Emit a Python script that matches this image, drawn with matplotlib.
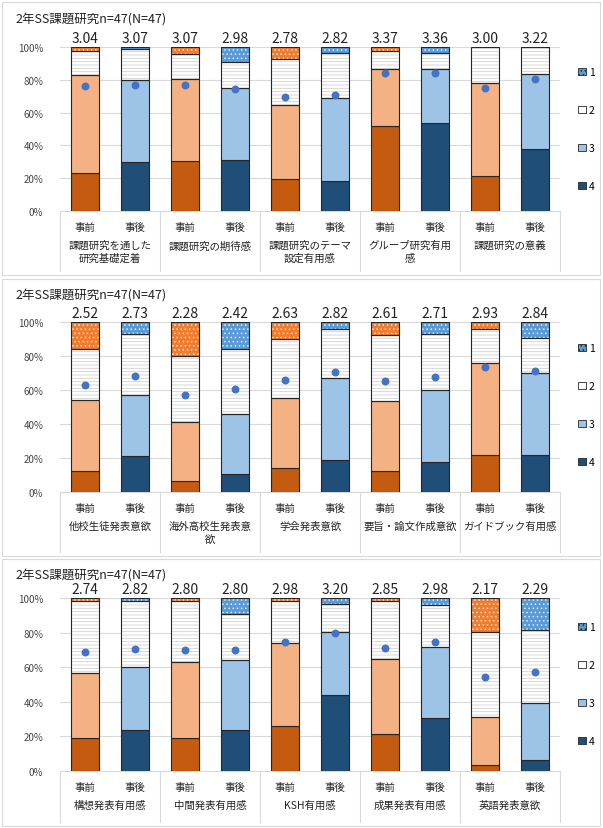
import numpy as np
import matplotlib
matplotlib.use('Agg')
import matplotlib.pyplot as plt
from matplotlib.patches import Patch, Rectangle

plt.rcParams.update({
    'font.family': ['Noto Sans CJK JP', 'DejaVu Sans'],
    'font.size': 8,
    'hatch.linewidth': 0.6,
})

TITLE = '2年SS課題研究n=47(N=47)'
PHASES = ['事前', '事後']
LEVELS = ['1', '2', '3', '4']

# Panel 1
items_1 = ['課題研究を通した\n研究基礎定着', '課題研究の期待感', '課題研究のテーマ\n設定有用感',
           'グループ研究有用\n感', '課題研究の意義']
means_1 = [3.04, 3.07, 3.07, 2.98, 2.78, 2.82, 3.37, 3.36, 3.00, 3.22]
p4_1 = [23.4, 29.8, 30.2, 30.8, 19.8, 18.0, 52.0, 53.5, 21.4, 37.8]
p3_1 = [59.3, 50.2, 50.2, 44.1, 44.9, 50.8, 34.7, 33.2, 56.6, 45.9]
p2_1 = [15.1, 18.5, 15.5, 15.9, 27.7, 27.5, 10.9, 9.6, 22.0, 16.3]
p1_1 = [2.2, 1.5, 4.1, 9.2, 7.6, 3.7, 2.4, 3.7, 0.0, 0.0]

# Panel 2
items_2 = ['他校生徒発表意欲', '海外高校生発表意\n欲', '学会発表意欲',
           '要旨・論文作成意欲', 'ガイドブック有用感']
means_2 = [2.52, 2.73, 2.28, 2.42, 2.63, 2.82, 2.61, 2.71, 2.93, 2.84]
p4_2 = [12.4, 21.2, 6.5, 10.4, 14.3, 19.0, 12.4, 17.6, 21.6, 21.6]
p3_2 = [41.5, 35.7, 34.7, 35.7, 41.2, 48.1, 40.9, 42.2, 54.3, 48.6]
p2_2 = [30.4, 36.0, 38.8, 38.2, 34.7, 28.6, 39.2, 33.3, 19.8, 20.4]
p1_2 = [15.7, 7.1, 20.0, 15.7, 9.8, 4.3, 7.5, 6.9, 4.3, 9.4]

# Panel 3
items_3 = ['構想発表有用感', '中間発表有用感', 'KSH有用感', '成果発表有用感', '英語発表意欲']
means_3 = [2.74, 2.82, 2.80, 2.80, 2.98, 3.20, 2.85, 2.98, 2.17, 2.29]
p4_3 = [19.2, 23.8, 19.2, 23.8, 25.8, 44.0, 21.5, 30.8, 3.3, 6.2]
p3_3 = [37.5, 36.2, 43.7, 40.4, 48.0, 36.2, 43.3, 40.7, 28.2, 33.2]
p2_3 = [41.4, 38.5, 35.2, 26.6, 24.3, 16.3, 33.3, 24.7, 48.7, 42.3]
p1_3 = [1.9, 1.5, 1.9, 9.2, 1.9, 3.5, 1.9, 3.8, 19.8, 18.3]

# segment colours (4, 3, 2, 1) for before / after
PRE = ['#C55A11', '#F4B183', '#FFFFFF', '#ED7D31']
POST = ['#1F4E79', '#9DC3E6', '#FFFFFF', '#5B9BD5']
HATCH = [None, None, '-----', '....']
HATCH_COL = [None, None, '#D0D0D0', '#FCE4D6']
HATCH_COL_POST = [None, None, '#D0D0D0', '#DDEBF7']
EDGE = '#262626'
DOT = '#4472C4'
GRID = '#D9D9D9'

W, H = 603, 829
fig = plt.figure(figsize=(W / 100, H / 100), dpi=100)

# (box top, box bottom, axes top, axes bottom, title y, legend centre y)
panels = [
    (items_1, means_1, [p4_1, p3_1, p2_1, p1_1], (3, 276, 48, 212, 20, 130)),
    (items_2, means_2, [p4_2, p3_2, p2_2, p1_2], (280, 557, 323, 493, 296, 406)),
    (items_3, means_3, [p4_3, p3_3, p2_3, p1_3], (560, 827, 599, 772, 576, 685)),
]

AX_L, AX_R = 60, 560


def fy(px):
    return 1 - px / H


for items, means, segs, (btop, bbot, atop, abot, ty, ly) in panels:
    fig.add_artist(Rectangle((2 / W, fy(bbot)), (W - 5) / W, (bbot - btop) / H,
                             transform=fig.transFigure, fill=False,
                             edgecolor='#D9D9D9', linewidth=0.8))
    fig.text(15 / W, fy(ty), TITLE, fontsize=9, ha='left', va='center', color='#222222')

    ax = fig.add_axes([AX_L / W, fy(abot), (AX_R - AX_L) / W, (abot - atop) / H])
    x = np.arange(len(means))
    bottom = np.zeros(len(means))
    for k, vals in enumerate(segs):
        vals = np.array(vals)
        for i in x:
            if vals[i] <= 0:
                continue
            post = i % 2 == 1
            face = POST[k] if post else PRE[k]
            hcol = (HATCH_COL_POST if post else HATCH_COL)[k]
            if HATCH[k]:
                ax.bar(i, vals[i], 0.56, bottom=bottom[i], color=face,
                       hatch=HATCH[k], edgecolor=hcol, linewidth=0, zorder=2)
                ax.bar(i, vals[i], 0.56, bottom=bottom[i], fill=False,
                       edgecolor=EDGE, linewidth=0.8, zorder=3)
            else:
                ax.bar(i, vals[i], 0.56, bottom=bottom[i], color=face,
                       edgecolor=EDGE, linewidth=0.8, zorder=3)
        bottom += vals

    # mean score as a dot on the 4-point scale
    ax.scatter(x, np.array(means) / 4 * 100, s=22, color=DOT, zorder=5)
    for i, m in enumerate(means):
        ax.annotate(f'{m:.2f}', (i, 100), xytext=(0, 2), textcoords='offset pixels',
                    ha='center', va='bottom', fontsize=10, color='#222222')

    ax.set_xlim(-0.5, 9.5)
    ax.set_ylim(0, 100)
    ax.set_yticks(np.arange(0, 101, 20))
    ax.set_yticklabels([f'{v}%' for v in range(0, 101, 20)], fontsize=7, color='#444444')
    ax.tick_params(axis='y', length=0, pad=12)
    ax.set_xticks([])
    ax.grid(axis='y', color=GRID, linewidth=0.8, zorder=0)
    for s in ['top', 'right', 'left']:
        ax.spines[s].set_visible(False)
    ax.spines['bottom'].set_color(GRID)

    # two-level category axis
    depth = bbot - 4 - abot
    for b in np.arange(-0.5, 10, 2):
        ax.plot([b, b], [0, -depth / (abot - atop)], transform=ax.get_xaxis_transform(),
                clip_on=False, color=GRID, linewidth=0.8)
    for i in x:
        ax.annotate(PHASES[i % 2], (i, 0), xycoords=ax.get_xaxis_transform(),
                    xytext=(0, -16), textcoords='offset pixels',
                    ha='center', va='center', fontsize=7.5, color='#222222')
    for j, name in enumerate(items):
        ax.annotate(name, (2 * j + 0.5, 0), xycoords=ax.get_xaxis_transform(),
                    xytext=(0, -29), textcoords='offset pixels',
                    ha='center', va='top', fontsize=7.5, linespacing=1.3, color='#222222')

    handles = [
        Patch(facecolor=POST[3], edgecolor=EDGE, hatch='....', linewidth=0.6),
        Patch(facecolor='white', edgecolor=EDGE, linewidth=0.6),
        Patch(facecolor=POST[1], edgecolor=EDGE, linewidth=0.6),
        Patch(facecolor=POST[0], edgecolor=EDGE, linewidth=0.6),
    ]
    ax.legend(handles, LEVELS, loc='center left', bbox_to_anchor=(573 / W, fy(ly)),
              bbox_transform=fig.transFigure, frameon=False, fontsize=7.5,
              handlelength=0.7, handleheight=0.7, handletextpad=0.3,
              labelspacing=2.7, borderpad=0)

fig.savefig('out.png', dpi=100)
